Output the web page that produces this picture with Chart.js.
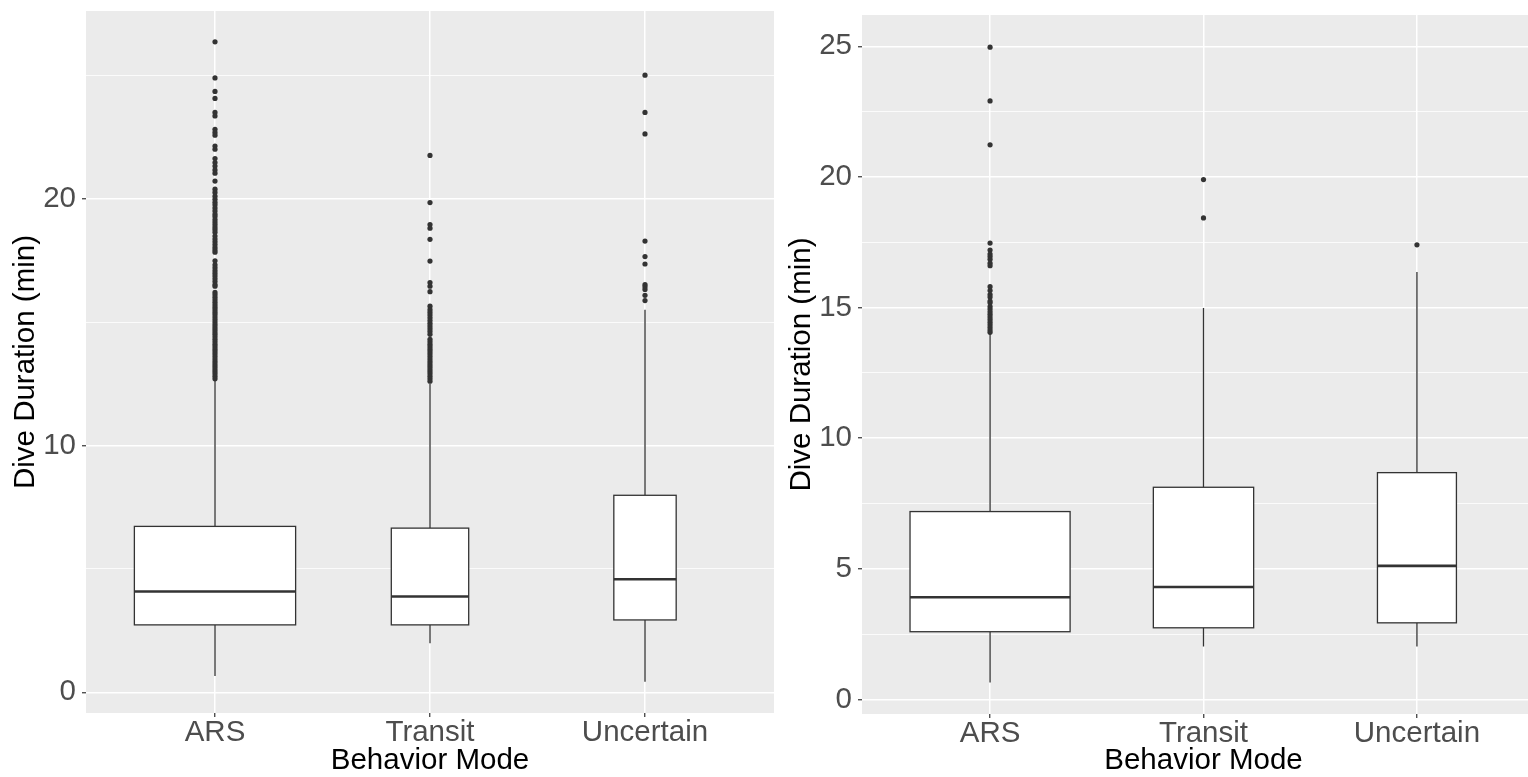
<!DOCTYPE html>
<html>
<head>
<meta charset="utf-8">
<script src="https://cdn.jsdelivr.net/npm/chart.js@4.4.1/dist/chart.umd.min.js"></script>
<style>
  body { margin: 0; background: #fff; overflow: hidden; width: 1528px; height: 777px; }
  .panel { position: absolute; top: 0; height: 777px; }
  #leftWrap { left: 0; width: 780px; }
  #rightWrap { left: 776px; width: 772px; }
</style>
</head>
<body>
<div class="panel" id="leftWrap"><canvas id="leftChart"></canvas></div>
<div class="panel" id="rightWrap"><canvas id="rightChart"></canvas></div>
<script>
// categories on the x axis
var categories = ['ARS', 'Transit', 'Uncertain'];

// left panel box statistics (min)
var leftWhiskerLow = [0.66, 1.99, 0.43];
var leftQ1 = [2.73, 2.73, 2.93];
var leftMedian = [4.08, 3.88, 4.58];
var leftQ3 = [6.72, 6.65, 7.98];
var leftWhiskerHigh = [12.65, 12.5, 15.5];
var leftBoxWidths = [0.75, 0.36, 0.29]; // varwidth boxes

var leftArsOutliers = [26.35, 24.89, 24.34, 24.06, 23.49, 23.35, 22.81, 22.68, 22.57, 22.13, 22.0,
  21.62, 21.46, 21.32, 21.16, 21.03, 20.71, 20.38, 20.25, 20.1, 19.97, 19.85, 19.75, 19.62, 19.5,
  19.37, 19.27, 19.15, 19.05, 18.95, 18.85, 18.75, 18.64, 18.48, 18.36, 18.25, 18.14, 18.02, 17.92, 17.83,
  17.48, 17.32, 17.2, 17.08, 16.97, 16.86, 16.75, 16.64, 16.52, 16.45,
  16.2, 16.1, 16.0, 15.9, 15.8, 15.7, 15.6, 15.5, 15.4, 15.3, 15.2, 15.1, 15.0, 14.9, 14.8, 14.7,
  14.6, 14.5, 14.4, 14.3, 14.2, 14.1, 14.0, 13.9, 13.8, 13.7, 13.6, 13.5, 13.4, 13.3, 13.2, 13.1,
  13.0, 12.9, 12.8, 12.7];
var leftTransitOutliers = [21.75, 19.84, 18.95, 18.8, 18.35, 17.47, 16.6, 16.45, 16.23, 15.64, 15.5,
  15.39, 15.28, 15.17, 15.06, 14.95, 14.84, 14.73, 14.62, 14.5, 14.3, 14.2, 14.1, 14.0, 13.9, 13.8, 13.7, 13.6,
  13.5, 13.4, 13.3, 13.2, 13.1, 13.0, 12.9, 12.8, 12.7, 12.6];
var leftUncertainOutliers = [25.0, 23.49, 22.62, 18.28, 17.65, 17.35, 16.52, 16.43, 16.32, 16.08, 15.87];

// right panel box statistics (min)
var rightWhiskerLow = [0.65, 2.02, 2.02];
var rightQ1 = [2.59, 2.74, 2.93];
var rightMedian = [3.91, 4.3, 5.11];
var rightQ3 = [7.19, 8.12, 8.68];
var rightWhiskerHigh = [14.02, 14.98, 16.36];
var rightBoxWidths = [0.75, 0.47, 0.37];

var rightArsOutliers = [24.97, 22.91, 21.23, 17.47, 17.2, 17.05, 16.95, 16.85, 16.7, 16.6,
  15.8, 15.65, 15.5, 15.4, 15.25, 15.18, 15.04, 14.94, 14.84, 14.74, 14.64, 14.54, 14.44,
  14.34, 14.24, 14.14, 14.05];
var rightTransitOutliers = [19.9, 18.43];
var rightUncertainOutliers = [17.4];

// y ticks: major get labels, minor only a thin grid line
var leftMajor = [0, 10, 20];
var leftMinor = [5, 15, 25];
var rightMajor = [0, 5, 10, 15, 20, 25];
var rightMinor = [2.5, 7.5, 12.5, 17.5, 22.5];

var FONT = '"Liberation Sans", Arial, sans-serif';
var INK = '#333333';

// ggplot-ish boxplot drawing through the chart scales
var ggBoxPlugin = {
  id: 'ggbox',
  beforeDraw: function (chart) {
    var a = chart.chartArea, c = chart.ctx;
    c.save();
    c.fillStyle = '#EBEBEB';
    c.fillRect(a.left, a.top, a.right - a.left, a.bottom - a.top);
    c.restore();
  },
  beforeDatasetsDraw: function (chart, args, opts) {
    var c = chart.ctx, xs = chart.scales.x, ys = chart.scales.y;
    c.save();
    c.strokeStyle = INK;
    for (var i = 0; i < opts.q1.length; i++) {
      var cx = xs.getPixelForValue(i + 1);
      var x0 = xs.getPixelForValue(i + 1 - opts.widths[i] / 2);
      var x1 = xs.getPixelForValue(i + 1 + opts.widths[i] / 2);
      var yLo = ys.getPixelForValue(opts.lo[i]);
      var yQ1 = ys.getPixelForValue(opts.q1[i]);
      var yMed = ys.getPixelForValue(opts.med[i]);
      var yQ3 = ys.getPixelForValue(opts.q3[i]);
      var yHi = ys.getPixelForValue(opts.hi[i]);
      // whiskers
      c.lineWidth = 1.3;
      c.beginPath();
      c.moveTo(cx, yQ1); c.lineTo(cx, yLo);
      c.moveTo(cx, yQ3); c.lineTo(cx, yHi);
      c.stroke();
      // box
      c.fillStyle = '#FFFFFF';
      c.fillRect(x0, yQ3, x1 - x0, yQ1 - yQ3);
      c.strokeRect(x0, yQ3, x1 - x0, yQ1 - yQ3);
      // median
      c.lineWidth = 2.6;
      c.beginPath();
      c.moveTo(x0, yMed); c.lineTo(x1, yMed);
      c.stroke();
    }
    c.restore();
  }
};

function outlierPoints(lists) {
  var pts = [];
  lists.forEach(function (vals, i) {
    vals.forEach(function (v) { pts.push({ x: i + 1, y: v }); });
  });
  return pts;
}

function makePanel(id, cfg) {
  var isMajor = function (v) { return cfg.major.indexOf(v) !== -1; };
  return new Chart(document.getElementById(id), {
    type: 'scatter',
    data: {
      datasets: [{
        data: outlierPoints(cfg.outliers),
        pointRadius: 2.6,
        pointHoverRadius: 2.6,
        backgroundColor: INK,
        borderWidth: 0
      }]
    },
    options: {
      responsive: true,
      maintainAspectRatio: false,
      animation: false,
      events: [],
      layout: { padding: cfg.padding },
      plugins: {
        legend: { display: false },
        tooltip: { enabled: false },
        ggbox: { lo: cfg.lo, q1: cfg.q1, med: cfg.med, q3: cfg.q3, hi: cfg.hi, widths: cfg.widths }
      },
      scales: {
        x: {
          type: 'linear',
          min: 0.4,
          max: 3.6,
          afterBuildTicks: function (s) { s.ticks = [{ value: 1 }, { value: 2 }, { value: 3 }]; },
          afterFit: function (s) {
            s.height = cfg.xHeight;
            s.paddingLeft = 0; s.paddingRight = 0;
          },
          border: { display: false },
          grid: { color: '#FFFFFF', lineWidth: 1.5, tickColor: INK, tickLength: 4, tickWidth: 1.2 },
          ticks: {
            padding: 1,
            color: '#4D4D4D',
            font: { family: FONT, size: 29.5, lineHeight: 1.0 },
            callback: function (v) { return categories[v - 1]; }
          },
          title: {
            display: true,
            text: 'Behavior Mode',
            color: '#000000',
            font: { family: FONT, size: 29.5, lineHeight: 1.1 },
            padding: { top: 0, bottom: 0 }
          }
        },
        y: {
          min: cfg.yMin,
          max: cfg.yMax,
          afterBuildTicks: function (s) {
            s.ticks = cfg.major.concat(cfg.minor).sort(function (a, b) { return a - b; })
              .map(function (v) { return { value: v }; });
          },
          afterFit: function (s) {
            s.width = 86;
            s.paddingTop = 0; s.paddingBottom = 0;
          },
          border: { display: false },
          grid: {
            color: '#FFFFFF',
            lineWidth: function (ctx) { return ctx.tick && isMajor(ctx.tick.value) ? 1.5 : 0.8; },
            tickColor: function (ctx) { return ctx.tick && isMajor(ctx.tick.value) ? INK : 'rgba(0,0,0,0)'; },
            tickLength: 4,
            tickWidth: 1.2
          },
          ticks: {
            autoSkip: false,
            padding: 6,
            color: '#4D4D4D',
            font: { family: FONT, size: 29.5 },
            callback: function (v) { return isMajor(v) ? String(v) : ''; }
          },
          title: {
            display: true,
            text: 'Dive Duration (min)',
            color: '#000000',
            font: { family: FONT, size: 29.5, lineHeight: 1.1 },
            padding: { top: 10, bottom: 0 }
          }
        }
      }
    },
    plugins: [ggBoxPlugin]
  });
}

makePanel('leftChart', {
  lo: leftWhiskerLow, q1: leftQ1, med: leftMedian, q3: leftQ3, hi: leftWhiskerHigh,
  widths: leftBoxWidths,
  outliers: [leftArsOutliers, leftTransitOutliers, leftUncertainOutliers],
  major: leftMajor, minor: leftMinor,
  yMin: -0.84, yMax: 27.6,
  xHeight: 64,
  padding: { top: 11, right: 6, bottom: 0, left: 0 }
});

makePanel('rightChart', {
  lo: rightWhiskerLow, q1: rightQ1, med: rightMedian, q3: rightQ3, hi: rightWhiskerHigh,
  widths: rightBoxWidths,
  outliers: [rightArsOutliers, rightTransitOutliers, rightUncertainOutliers],
  major: rightMajor, minor: rightMinor,
  yMin: -0.56, yMax: 26.2,
  xHeight: 63,
  padding: { top: 15, right: 3, bottom: 0, left: 0 }
});
</script>
</body>
</html>
